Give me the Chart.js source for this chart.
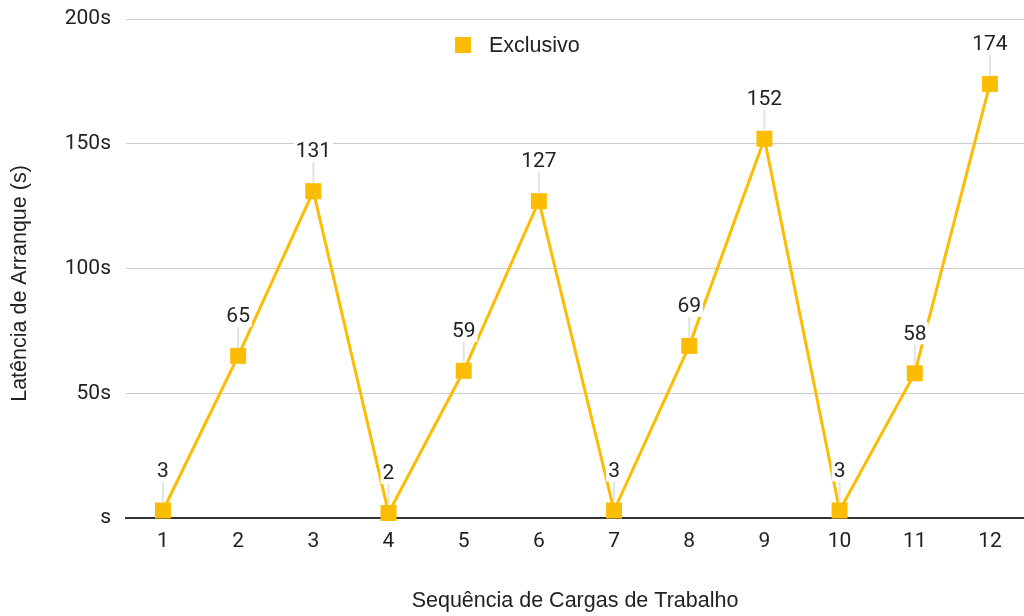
<!DOCTYPE html>
<html>
<head>
<meta charset="utf-8">
<script src="https://cdn.jsdelivr.net/npm/chart.js@4.4.1/dist/chart.umd.min.js"></script>
<style>
  html, body { margin: 0; padding: 0; background: #ffffff; }
  #wrap { width: 1024px; height: 616px; position: relative; }
</style>
</head>
<body>
<div id="wrap"><canvas id="chart" width="1024" height="616"></canvas></div>
<script>
// Workload sequence and start-up latency (seconds) for the exclusive mode
const categories = ['1', '2', '3', '4', '5', '6', '7', '8', '9', '10', '11', '12'];
const exclusivo = [3, 65, 131, 2, 59, 127, 3, 69, 152, 3, 58, 174];
const yTickValues = [0, 50, 100, 150, 200];
const yTickLabels = ['s', '50s', '100s', '150s', '200s'];
const seriesName = 'Exclusivo';
const xTitle = 'Sequência de Cargas de Trabalho';
const yTitle = 'Latência de Arranque (s)';

const YELLOW = '#FBBC04';
const TEXT = '#222222';
const TITLE_FONT = { family: '"Liberation Sans", Arial, sans-serif', size: 21.5 };
const NUM_FONT = '21px Roboto, "Liberation Sans", sans-serif';

// Value labels above each point, with a thin leader line down to the marker
const valueLabels = {
  id: 'valueLabels',
  afterDatasetsDraw(chart) {
    const ctx = chart.ctx;
    const meta = chart.getDatasetMeta(0);
    ctx.save();
    ctx.font = NUM_FONT;
    ctx.textAlign = 'center';
    ctx.textBaseline = 'middle';
    meta.data.forEach((pt, i) => {
      const txt = String(exclusivo[i]);
      const x = pt.x, y = pt.y;
      ctx.strokeStyle = '#e3e3e3';
      ctx.lineWidth = 2;
      ctx.beginPath();
      ctx.moveTo(x, y - 29);
      ctx.lineTo(x, y - 8);
      ctx.stroke();
      const w = ctx.measureText(txt).width;
      ctx.fillStyle = '#ffffff';
      ctx.fillRect(x - w / 2 - 2, y - 40 - 11, w + 4, 22);
      ctx.fillStyle = TEXT;
      ctx.fillText(txt, x, y - 39);
    });
    ctx.restore();
  }
};

// Legend swatch and vertical axis title
const extras = {
  id: 'extras',
  afterDraw(chart) {
    const ctx = chart.ctx;
    ctx.save();
    ctx.fillStyle = YELLOW;
    ctx.fillRect(455, 37, 16, 16);
    ctx.fillStyle = TEXT;
    ctx.font = `${TITLE_FONT.size}px ${TITLE_FONT.family}`;
    ctx.textAlign = 'left';
    ctx.textBaseline = 'middle';
    ctx.fillText(seriesName, 489, 46);
    ctx.translate(20, 283.5);
    ctx.rotate(-Math.PI / 2);
    ctx.textAlign = 'center';
    ctx.fillText(yTitle, 0, 0);
    ctx.restore();
  }
};

new Chart(document.getElementById('chart'), {
  type: 'line',
  data: {
    datasets: [{
      label: seriesName,
      data: exclusivo.map((v, i) => ({ x: i + 1, y: v })),
      borderColor: YELLOW,
      backgroundColor: YELLOW,
      borderWidth: 3,
      pointStyle: 'rect',
      pointRadius: 11.3,
      pointHoverRadius: 11.3,
      pointBorderWidth: 0,
      tension: 0,
      clip: false
    }]
  },
  options: {
    responsive: false,
    animation: false,
    devicePixelRatio: 1,
    layout: { autoPadding: false, padding: { top: 19, left: 0, right: 0, bottom: 0 } },
    plugins: {
      legend: { display: false },
      tooltip: { enabled: false }
    },
    scales: {
      x: {
        type: 'linear',
        min: 0.508,
        max: 12.453,
        afterBuildTicks(scale) {
          scale.ticks = categories.map((c, i) => ({ value: i + 1 }));
        },
        afterFit(scale) {
          scale.height = 98;
          scale.paddingLeft = 0;
          scale.paddingRight = 0;
        },
        grid: { display: false, drawTicks: false },
        border: { display: true, color: '#333333', width: 2 },
        ticks: {
          autoSkip: false,
          maxRotation: 0,
          padding: 11,
          color: TEXT,
          font: { family: 'Roboto, "Liberation Sans", sans-serif', size: 21 },
          callback(value, index) { return categories[index]; }
        },
        title: {
          display: true,
          text: xTitle,
          color: TEXT,
          font: TITLE_FONT,
          padding: { top: 0, bottom: 2 }
        }
      },
      y: {
        min: 0,
        max: 200,
        afterBuildTicks(scale) {
          scale.ticks = yTickValues.map(v => ({ value: v }));
        },
        afterFit(scale) {
          scale.width = 126;
          scale.paddingTop = 0;
          scale.paddingBottom = 0;
        },
        grid: { color: '#cccccc', lineWidth: 1, drawTicks: false },
        border: { display: false },
        ticks: {
          padding: 15,
          color: TEXT,
          font: { family: 'Roboto, "Liberation Sans", sans-serif', size: 21 },
          callback(value, index) { return yTickLabels[index]; }
        }
      }
    }
  },
  plugins: [valueLabels, extras]
});
</script>
</body>
</html>
